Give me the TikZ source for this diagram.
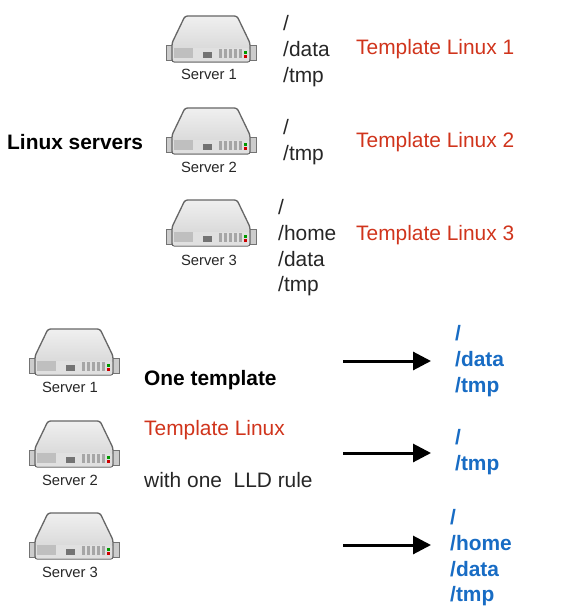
\documentclass[tikz,border=0pt]{standalone}
\usepackage{fontspec}
\setmainfont{Liberation Sans}
\usepackage{tikz}
\usetikzlibrary{arrows.meta}
\definecolor{TplRed}{RGB}{208,52,28}
\definecolor{PathBlue}{RGB}{24,108,196}
\tikzset{
  PathText/.style={anchor=west,align=left,inner sep=0pt,font=\fontsize{20.9}{25.7}\selectfont,text=black!85},
  TplText/.style={anchor=west,inner sep=0pt,font=\fontsize{20.9}{25}\selectfont,text=TplRed},
  FoundText/.style={anchor=west,align=left,inner sep=0pt,font=\fontsize{20.9}{25.7}\selectfont\bfseries,text=PathBlue},
  HeadText/.style={anchor=west,inner sep=0pt,font=\fontsize{20.9}{25}\selectfont\bfseries},
  NoteText/.style={anchor=west,inner sep=0pt,font=\fontsize{20.9}{25}\selectfont,text=black!85},
  SrvText/.style={inner sep=0pt,font=\fontsize{14.8}{16}\selectfont,text=black!85},
  LldArrow/.style={line width=3pt,-{Triangle[length=18pt,width=18pt]}},
  servericon/.pic={
    % ears
    \fill[black!20,draw=black!55,line width=.8pt] (-45,29) rectangle (-38,44);
    \fill[black!20,draw=black!55,line width=.8pt] (38,29) rectangle (45,44);
    % case
    \draw[black!60,line width=1.3pt,top color=black!6,bottom color=black!18,rounded corners=2.5pt]
      (-26,0) -- (26,0) -- (39,27) -- (39,46) -- (-39,46) -- (-39,27) -- cycle;
    % front
    \fill[black!12,rounded corners=1pt] (-38,32) rectangle (38,45.5);
    \fill[black!25] (-37,32) rectangle (-18,42);
    \fill[black!55] (-8,36) rectangle (1,42);
    \foreach \bx in {8,13,18,23,28}
      \fill[black!35] (\bx,33) rectangle (\bx+3,42);
    \fill[green!60!black] (33,35) rectangle (36,38);
    \fill[red!80!black] (33,39) rectangle (36,42);
  }
}
\begin{document}
\begin{tikzpicture}[x=1pt,y=-1pt]
\useasboundingbox (0,0) rectangle (586,609);
% upper part
\pic at (211,16) {servericon};
\pic at (211,108) {servericon};
\pic at (211,200) {servericon};
\node[SrvText] (Srv1) at (209,74) {Server 1};
\node[SrvText] (Srv2) at (209,167) {Server 2};
\node[SrvText] (Srv3) at (209,260) {Server 3};
\node[PathText] (Fs1) at (283,51) {/\\/data\\/tmp};
\node[PathText] (Fs2) at (283,142) {/\\/tmp};
\node[PathText] (Fs3) at (278,248) {/\\/home\\/data\\/tmp};
\node[TplText] (Tpl1) at (356,49) {Template Linux 1};
\node[TplText] (Tpl2) at (356,142) {Template Linux 2};
\node[TplText] (Tpl3) at (356,235) {Template Linux 3};
\node[HeadText] (Head) at (7,142) {Linux servers};
% lower part
\pic at (74,329) {servericon};
\pic at (74,421) {servericon};
\pic at (74,513) {servericon};
\node[SrvText] (Low1) at (70,387) {Server 1};
\node[SrvText] (Low2) at (70,480) {Server 2};
\node[SrvText] (Low3) at (70,572) {Server 3};
\node[HeadText] (One) at (144,380) {One template};
\node[TplText] (Tpl) at (144,430) {Template Linux};
\node[NoteText] (Rule) at (144,480) {with one\ \ LLD rule};
\coordinate (From1) at (343,361);
\coordinate (To1) at (431,361);
\coordinate (From2) at (343,453);
\coordinate (To2) at (431,453);
\coordinate (From3) at (343,545);
\coordinate (To3) at (431,545);
\draw[LldArrow] (From1) -- (To1);
\draw[LldArrow] (From2) -- (To2);
\draw[LldArrow] (From3) -- (To3);
\node[FoundText] (Out1) at (455,361) {/\\/data\\/tmp};
\node[FoundText] (Out2) at (455,452) {/\\/tmp};
\node[FoundText] (Out3) at (450,558) {/\\/home\\/data\\/tmp};
\end{tikzpicture}
\end{document}
